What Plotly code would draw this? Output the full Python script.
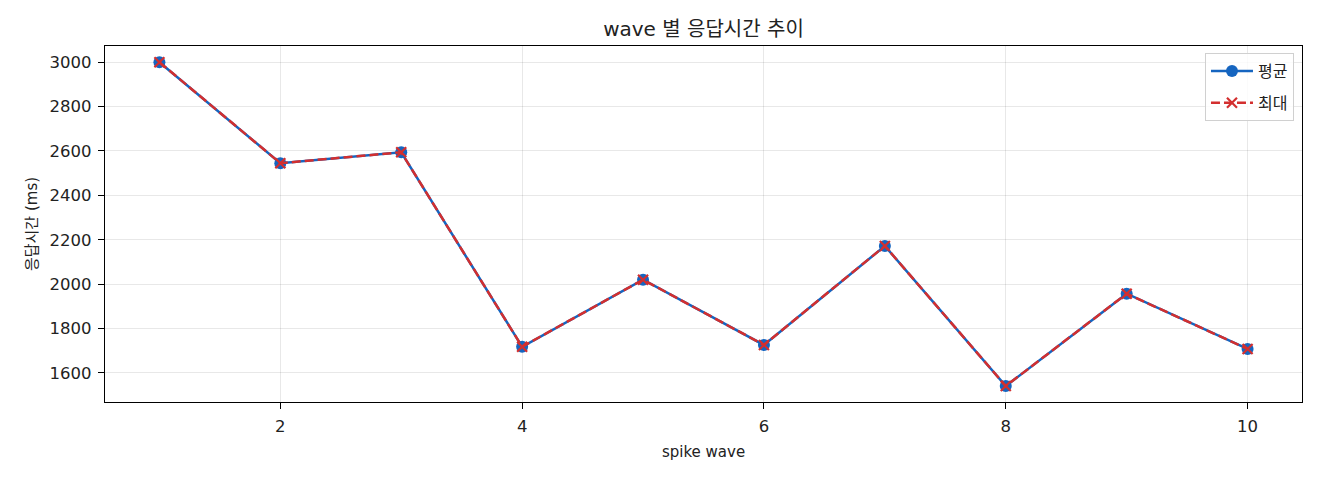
import plotly.graph_objects as go

# page body keeps its default 8px margin, so the figure is 8px smaller
FONT = "DejaVu Sans, Noto Sans CJK KR"
KR_FONT = "Noto Sans CJK KR"
BLUE = "#1565C0"
RED = "#D32F2F"
TEXT = "#222222"

waves = [1, 2, 3, 4, 5, 6, 7, 8, 9, 10]
avg_ms = [3000, 2545, 2594, 1718, 2020, 1726, 2172, 1541, 1957, 1708]
max_ms = [3000, 2545, 2594, 1718, 2020, 1726, 2172, 1541, 1957, 1708]
x_ticks = [2, 4, 6, 8, 10]
y_ticks = [1600, 1800, 2000, 2200, 2400, 2600, 2800, 3000]

fig = go.Figure()
fig.add_trace(
    go.Scatter(
        x=waves,
        y=avg_ms,
        name="평균",
        legendgroup="avg",
        mode="lines+markers",
        line=dict(color=BLUE, width=2.5),
        marker=dict(color=BLUE, size=12, symbol="circle"),
    )
)
fig.add_trace(
    go.Scatter(
        x=waves,
        y=max_ms,
        name="최대",
        legendgroup="max",
        mode="lines+markers",
        line=dict(color=RED, width=2.5, dash="9px,4px"),
        marker=dict(color=RED, size=10, symbol="x-thin", line=dict(color=RED, width=2.2)),
    )
)

axis_style = dict(
    showline=True,
    linecolor="black",
    linewidth=1.3,
    mirror=True,
    ticks="outside",
    ticklen=6,
    tickwidth=1.3,
    tickcolor="black",
    showgrid=True,
    gridcolor="rgba(0,0,0,0.09)",
    gridwidth=1,
    zeroline=False,
    tickfont=dict(family=FONT, size=16.5, color=TEXT),
)

fig.update_xaxes(
    axis_style,
    range=[0.55, 10.45],
    tickvals=x_ticks,
    ticklabelstandoff=3,
    title=dict(text="spike wave", font=dict(family=FONT, size=15, color=TEXT), standoff=11),
)
fig.update_yaxes(
    axis_style,
    range=[1469, 3073],
    tickvals=y_ticks,
    ticklabelstandoff=3,
    title=dict(text="응답시간 (ms)", font=dict(family=FONT, size=15, color=TEXT), standoff=8),
)

fig.update_layout(
    width=1312,
    height=472,
    plot_bgcolor="#FFFFFF",
    paper_bgcolor="#FFFFFF",
    margin=dict(l=97, r=18, t=38, b=78),
    title=dict(
        text="wave 별 응답시간 추이",
        x=0.5,
        xref="paper",
        xanchor="center",
        y=0.9555,
        yanchor="middle",
        font=dict(family=FONT, size=20, color=TEXT),
    ),
    legend=dict(
        x=0.9933,
        y=0.98,
        xanchor="right",
        yanchor="top",
        bgcolor="rgba(255,255,255,0.8)",
        bordercolor="#d0d0d0",
        borderwidth=1,
        itemwidth=42,
        tracegroupgap=8,
        font=dict(family=KR_FONT, size=16, color=TEXT),
    ),
    showlegend=True,
)

fig.write_html("out.html")
